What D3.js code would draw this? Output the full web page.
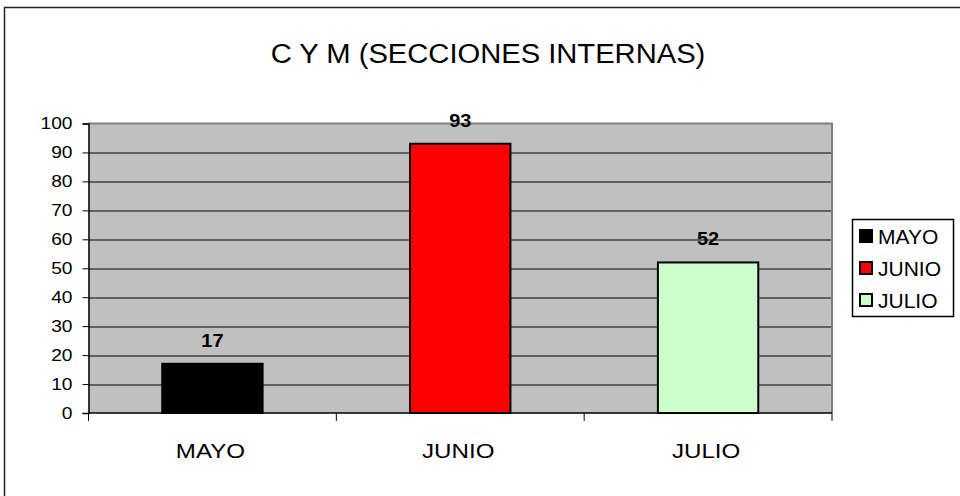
<!DOCTYPE html>
<html>
<head>
<meta charset="utf-8">
<script src="https://cdn.jsdelivr.net/npm/d3@7"></script>
<style>
  body { margin: 0; background: #fff; }
  text { font-family: Arial, "Liberation Sans", sans-serif; fill: #000; }
</style>
</head>
<body>
<div id="chart"></div>
<script>
// chart data
var months = ["MAYO", "JUNIO", "JULIO"];
var values = [17, 93, 52];
var barColors = ["#000000", "#ff0000", "#ccffcc"];
var yTicks = [0, 10, 20, 30, 40, 50, 60, 70, 80, 90, 100];
var chartTitle = "C Y M (SECCIONES INTERNAS)";

var svgWidth = 960;
var svgHeight = 496;

var margin = {
  top: 123.5,
  right: 128,
  bottom: 83,
  left: 88.5
};

var width = svgWidth - margin.left - margin.right;
var height = svgHeight - margin.top - margin.bottom;

var svg = d3.select("#chart")
  .append("svg")
  .attr("width", svgWidth)
  .attr("height", svgHeight);

// outer frame (runs off the right / bottom edge)
svg.append("rect")
  .attr("x", 4.5)
  .attr("y", 7.5)
  .attr("width", 1200)
  .attr("height", 1200)
  .attr("fill", "none")
  .attr("stroke", "#222")
  .attr("stroke-width", 1.5);

// title, text is a bit wide in the original so stretch it
svg.append("text")
  .attr("transform", "translate(488, 63) scale(1.08, 1)")
  .attr("text-anchor", "middle")
  .style("font-size", "27px")
  .text(chartTitle);

var chartGroup = svg.append("g")
  .attr("transform", `translate(${margin.left}, ${margin.top})`);

var xBandScale = d3.scaleBand()
  .domain(months)
  .range([0, width]);

var yLinearScale = d3.scaleLinear()
  .domain([0, 100])
  .range([height, 0]);

// plot background
chartGroup.append("rect")
  .attr("width", width)
  .attr("height", height)
  .attr("fill", "#c0c0c0");

// gridlines
chartGroup.selectAll(".grid")
  .data(yTicks.filter(d => d > 0 && d < 100))
  .enter()
  .append("line")
  .attr("class", "grid")
  .attr("x1", 0)
  .attr("x2", width)
  .attr("y1", d => Math.round(yLinearScale(d)) + 0.5)
  .attr("y2", d => Math.round(yLinearScale(d)) + 0.5)
  .attr("stroke", "#000")
  .attr("stroke-width", 1);

// gray top and right border of plot area
chartGroup.append("path")
  .attr("d", `M0,0H${width}V${height}`)
  .attr("fill", "none")
  .attr("stroke", "#808080")
  .attr("stroke-width", 2);

// bars
var barWidth = xBandScale.bandwidth() * 0.405;
chartGroup.selectAll(".bar")
  .data(values)
  .enter()
  .append("rect")
  .attr("class", "bar")
  .attr("x", (d, i) => xBandScale(months[i]) + (xBandScale.bandwidth() - barWidth) / 2)
  .attr("y", d => yLinearScale(d))
  .attr("width", barWidth)
  .attr("height", d => height - yLinearScale(d))
  .attr("fill", (d, i) => barColors[i])
  .attr("stroke", "#000")
  .attr("stroke-width", 2);

// value labels
chartGroup.selectAll(".val")
  .data(values)
  .enter()
  .append("text")
  .attr("class", "val")
  .attr("transform", (d, i) => `translate(${xBandScale(months[i]) + xBandScale.bandwidth() / 2}, ${yLinearScale(d) - 17}) scale(1.05, 1)`)
  .attr("text-anchor", "middle")
  .style("font-size", "19px")
  .style("font-weight", "bold")
  .text(d => d);

// y axis
var leftAxis = d3.axisLeft(yLinearScale)
  .tickValues(yTicks)
  .tickSize(6)
  .tickPadding(10);

var yAxis = chartGroup.append("g")
  .call(leftAxis);

yAxis.select(".domain").attr("stroke", "#000").attr("stroke-width", 1.5);
yAxis.selectAll("text")
  .style("font-size", "16px")
  .each(function () {
    var t = d3.select(this);
    t.attr("transform", `translate(${t.attr("x")}, 0) scale(1.2, 1) translate(${-t.attr("x")}, 0)`);
  });
yAxis.attr("font-family", null).attr("font-size", null);

// x axis, ticks between categories
var xAxis = chartGroup.append("g")
  .attr("transform", `translate(0, ${height})`);

xAxis.append("line")
  .attr("x1", 0)
  .attr("x2", width)
  .attr("stroke", "#000")
  .attr("stroke-width", 1.5);

var boundaries = months.map(m => xBandScale(m)).concat([width]);
xAxis.selectAll(".xtick")
  .data(boundaries)
  .enter()
  .append("line")
  .attr("class", "xtick")
  .attr("x1", d => d)
  .attr("x2", d => d)
  .attr("y1", 0)
  .attr("y2", 8)
  .attr("stroke", "#000");

xAxis.selectAll(".xlabel")
  .data(months)
  .enter()
  .append("text")
  .attr("class", "xlabel")
  .attr("transform", d => `translate(${xBandScale(d) + xBandScale.bandwidth() / 2 - 2}, 44.5) scale(1.15, 1)`)
  .attr("text-anchor", "middle")
  .style("font-size", "21px")
  .text(d => d);

// legend
var legend = svg.append("g")
  .attr("transform", "translate(852, 219)");

legend.append("rect")
  .attr("x", 0.5)
  .attr("y", 0.5)
  .attr("width", 101)
  .attr("height", 97)
  .attr("fill", "#fff")
  .attr("stroke", "#000")
  .attr("stroke-width", 1.5);

var legendItems = legend.selectAll(".item")
  .data(months)
  .enter()
  .append("g")
  .attr("class", "item")
  .attr("transform", (d, i) => `translate(7, ${17 + i * 32})`);

legendItems.append("rect")
  .attr("x", 1)
  .attr("y", -6)
  .attr("width", 12)
  .attr("height", 12)
  .attr("fill", (d, i) => barColors[i])
  .attr("stroke", "#000")
  .attr("stroke-width", 2);

legendItems.append("text")
  .attr("x", 19)
  .attr("y", 8)
  .style("font-size", "21px")
  .text(d => d);
</script>
</body>
</html>
